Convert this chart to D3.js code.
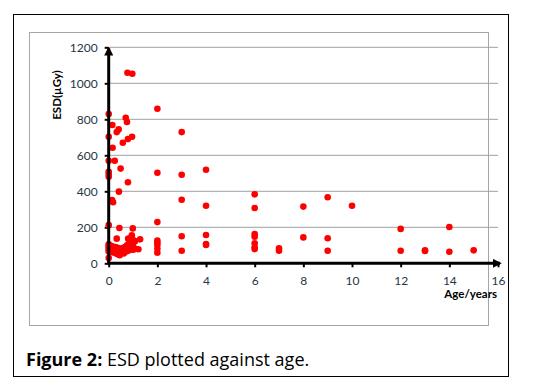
<!DOCTYPE html>
<html>
<head>
<meta charset="utf-8">
<script src="https://cdn.jsdelivr.net/npm/d3@7"></script>
<style>
  body { margin: 0; background: #fff; }
  svg text { font-family: Lato, "Open Sans", sans-serif; }
</style>
</head>
<body>
<svg id="chart"></svg>
<script>
// age in years
const ages = [
  0.77, 0.97, 2, 0, 0.7, 0.75, 0.15, 0.41, 0.33, 3, 0, 0.96, 0.79, 0.58, 0.16,
  0, 0.25, 0.49, 0, 0, 0, 2, 3, 4,
  0.79, 0.42, 0.14, 0.18, 2, 0, 0.44, 0.99, 3, 4, 3, 4, 4, 4, 3,
  2, 2, 2, 2, 2, 1.29, 1.22, 0.8, 0.33, 0.95, 1.08, 0.9, 0,
  6, 6, 6, 6, 6, 6, 6, 7, 7, 8, 8, 9, 9, 9, 10, 12, 12, 13, 13, 14, 14, 15,
  0, 0, 0, 0, 0, 0.05, 0.08, 0.1, 0.12, 0.15, 0.17, 0.2, 0.22, 0.25, 0.28, 0.3,
  0.33, 0.35, 0.38, 0.4, 0.42, 0.45, 0.5, 0.5, 0.55, 0.58, 0.6, 0.62, 0.67, 0.7,
  0.72, 0.75, 0.78, 0.8, 0.83, 0.85, 0.88, 0.9, 0.92, 0.95, 0.97, 1.0, 1.0, 1.0,
  1.05, 1.08
];
// ESD in µGy
const esd = [
  1059, 1053, 859, 829, 809, 785, 768, 744, 729, 729, 703, 703, 690, 670, 642,
  570, 570, 526, 509, 496, 481, 503, 492, 520,
  450, 398, 352, 339, 229, 212, 196, 194, 353, 320, 150, 157, 107, 102, 70,
  126, 114, 102, 81, 59, 133, 78, 137, 137, 156, 122, 118, 29,
  383, 307, 163, 148, 111, 89, 79, 83, 70, 315, 144, 367, 139, 70, 320, 191, 70, 72, 68, 202, 64, 72,
  105, 95, 85, 75, 65, 100, 80, 90, 70, 95, 60, 85, 75, 65, 90, 55,
  80, 70, 50, 85, 60, 45, 75, 55, 65, 85, 70, 55, 90, 75,
  65, 100, 80, 70, 110, 90, 75, 120, 100, 85, 135, 110, 95, 75,
  125, 80
];
const xTicks = [0, 2, 4, 6, 8, 10, 12, 14, 16];
const yTicks = [0, 200, 400, 600, 800, 1000, 1200];

const W = 557, H = 391;
const svg = d3.select('#chart').attr('width', W).attr('height', H);

// outer frame and chart area
svg.append('rect').attr('x', 13.5).attr('y', 14.5).attr('width', 495).attr('height', 362)
  .attr('fill', 'none').attr('stroke', '#000').attr('stroke-width', 1);
svg.append('rect').attr('x', 29.5).attr('y', 32.5).attr('width', 459).attr('height', 293)
  .attr('fill', '#fff').attr('stroke', '#a6a6a6').attr('stroke-width', 1);

const x = d3.scaleLinear().domain([0, 16]).range([108.7, 498]);
const y = d3.scaleLinear().domain([0, 1200]).range([263.3, 47.3]);

const g = svg.append('g');

// gridlines
g.selectAll('.grid')
  .data(yTicks.filter(d => d > 0))
  .enter().append('line')
    .attr('x1', x(0)).attr('x2', x(16))
    .attr('y1', d => y(d)).attr('y2', d => y(d))
    .attr('stroke', '#a0a0a0').attr('stroke-width', 1);

const yAxis = d3.axisLeft(y).tickValues(yTicks).tickFormat(d3.format('d')).tickSize(4).tickPadding(7);
const xAxis = d3.axisBottom(x).tickValues(xTicks).tickFormat(d3.format('d')).tickSize(4).tickPadding(9);

const ya = g.append('g').attr('transform', 'translate(' + x(0) + ',0)').call(yAxis);
const xa = g.append('g').attr('transform', 'translate(0,' + y(0) + ')').call(xAxis);
[ya, xa].forEach(a => {
  a.select('.domain').remove();
  a.selectAll('.tick line').attr('stroke', '#000').attr('stroke-width', 2);
  a.selectAll('.tick text').attr('fill', '#253545').attr('font-size', 12);
});

// points
g.selectAll('circle')
  .data(ages.map((a, i) => ({ age: a, val: esd[i] })))
  .enter().append('circle')
    .attr('cx', d => x(d.age))
    .attr('cy', d => y(d.val))
    .attr('r', 3.3)
    .attr('fill', '#ff0000');

// axis lines with arrow heads
svg.append('defs').append('marker')
    .attr('id', 'arrow').attr('viewBox', '0 0 10 10')
    .attr('refX', 8).attr('refY', 5)
    .attr('markerWidth', 3).attr('markerHeight', 3)
    .attr('orient', 'auto')
  .append('path').attr('d', 'M0,0 L10,5 L0,10 z').attr('fill', '#000');

g.append('line')
  .attr('x1', x(0)).attr('x2', x(0)).attr('y1', y(0) + 1).attr('y2', y(1200) + 1)
  .attr('stroke', '#000').attr('stroke-width', 3).attr('marker-end', 'url(#arrow)');
g.append('line')
  .attr('x1', x(0) - 1).attr('x2', x(16) + 2).attr('y1', y(0)).attr('y2', y(0))
  .attr('stroke', '#000').attr('stroke-width', 3).attr('marker-end', 'url(#arrow)');

// axis titles
svg.append('text')
  .attr('transform', 'translate(61,' + 95 + ') rotate(-90)')
  .attr('text-anchor', 'middle')
  .attr('font-size', 11.5).attr('font-weight', 'bold').attr('fill', '#000')
  .text('ESD(µGy)');
svg.append('text')
  .attr('x', 497).attr('y', 298)
  .attr('text-anchor', 'end')
  .attr('font-size', 11.5).attr('font-weight', 'bold').attr('fill', '#000')
  .text('Age/years');

// caption
const cap = svg.append('text').attr('x', 26).attr('y', 366)
  .attr('font-size', 18).attr('fill', '#000').style('font-family', '"Open Sans", sans-serif');
cap.append('tspan').attr('font-weight', 'bold').text('Figure 2:');
cap.append('tspan').text(' ESD plotted against age.');
</script>
</body>
</html>
